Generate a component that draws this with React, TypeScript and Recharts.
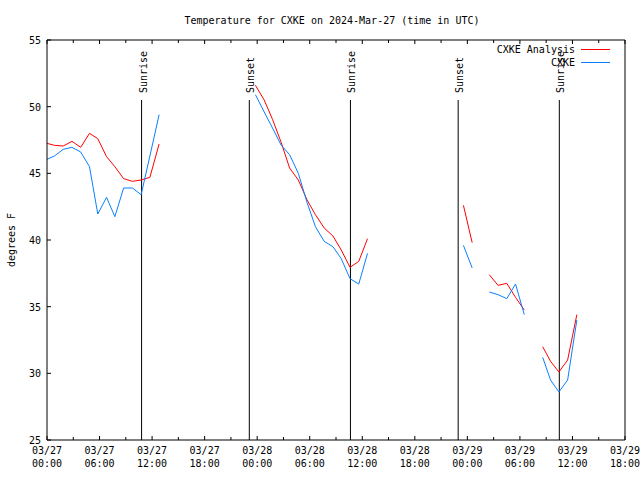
import React from 'react';
import { LineChart, Line, XAxis, YAxis, ReferenceLine } from 'recharts';

// hours since 03/27 00:00 UTC; rows with null values break the lines
const hours = [
  0, 0.85, 1.85, 2.85, 3.85, 4.85, 5.8, 6.8, 7.75, 8.75, 9.75, 10.75, 11.75, 12.8,
  18,
  23.8, 24.8, 25.75, 26.75, 27.7, 28.7, 29.7, 30.65, 31.65, 32.65, 33.6, 34.6, 35.6, 36.6,
  42,
  47.55, 48.55,
  49.5,
  50.5, 51.5, 52.5, 53.5, 54.5,
  55.5,
  56.6, 57.5, 58.45, 59.45, 60.5,
];

const analysis = [
  47.25, 47.1, 47.05, 47.4, 46.95, 48.0, 47.6, 46.25, 45.5, 44.6, 44.4, 44.5, 44.7, 47.2,
  null,
  51.6, 50.5, 49.05, 47.3, 45.4, 44.5, 43.0, 41.9, 40.9, 40.3, 39.25, 37.95, 38.4, 40.1,
  null,
  42.6, 39.8,
  null,
  37.4, 36.6, 36.75, 35.7, 34.75,
  null,
  32.0, 30.9, 30.1, 31.0, 34.4,
];

const observed = [
  46.05, 46.3, 46.8, 46.95, 46.6, 45.5, 41.95, 43.2, 41.75, 43.9, 43.9, 43.4, 46.3, 49.4,
  null,
  50.9, 49.6, 48.4, 47.1, 46.4, 45.0, 42.8, 41.0, 39.9, 39.5, 38.6, 37.1, 36.7, 39.0,
  null,
  39.6, 37.9,
  null,
  36.1, 35.9, 35.6, 36.7, 34.4,
  null,
  31.2, 29.5, 28.6, 29.5, 34.0,
];

const eventHours = [10.8, 23.1, 34.65, 46.95, 58.5];
const eventNames = ['Sunrise', 'Sunset', 'Sunrise', 'Sunset', 'Sunrise'];

const xTicks = [0, 3, 6, 9, 12, 15, 18, 21, 24, 27, 30, 33, 36, 39, 42, 45, 48, 51, 54, 57, 60, 63, 66];
const yTicks = [25, 30, 35, 40, 45, 50, 55];

const data = hours.map((h, i) => ({ h, analysis: analysis[i], observed: observed[i] }));

const FONT = "'DejaVu Sans Mono', monospace";
const RED = '#ff0000';
const BLUE = '#0a80ff';

const pad = (n: number) => (n < 10 ? '0' + n : '' + n);

const BottomTick = (props: any) => {
  const { x, y, payload } = props;
  const v = payload.value;
  const major = v % 6 === 0;
  return (
    <g>
      <line x1={x} y1={y} x2={x} y2={y - (major ? 4 : 3)} stroke="#000" />
      {major && (
        <text x={x} y={y + 14} textAnchor="middle" fontFamily={FONT} fontSize={10} fill="#000">
          <tspan x={x}>{`03/${27 + Math.floor(v / 24)}`}</tspan>
          <tspan x={x} dy={13}>{`${pad(v % 24)}:00`}</tspan>
        </text>
      )}
    </g>
  );
};

const TopTick = (props: any) => {
  const { x, y, payload } = props;
  const major = payload.value % 6 === 0;
  return <line x1={x} y1={y} x2={x} y2={y + (major ? 4 : 3)} stroke="#000" />;
};

const LeftTick = (props: any) => {
  const { x, y, payload } = props;
  return (
    <g>
      <line x1={x} y1={y} x2={x + 4} y2={y} stroke="#000" />
      <text x={x - 6} y={y + 4} textAnchor="end" fontFamily={FONT} fontSize={10} fill="#000">
        {payload.value}
      </text>
    </g>
  );
};

const RightTick = (props: any) => {
  const { x, y } = props;
  return <line x1={x} y1={y} x2={x - 4} y2={y} stroke="#000" />;
};

const eventShape = (name: string) => (p: any) => {
  const top = Math.min(p.y1, p.y2);
  const bottom = Math.max(p.y1, p.y2);
  const tx = p.x1 + 5;
  const ty = top - 7;
  return (
    <g>
      <line x1={p.x1} y1={top} x2={p.x1} y2={bottom} stroke="#000" strokeWidth={1} />
      <text x={tx} y={ty} transform={`rotate(-90 ${tx} ${ty})`} textAnchor="start" fontFamily={FONT} fontSize={10} fill="#000">
        {name}
      </text>
    </g>
  );
};

export default function App() {
  return (
    <div style={{ position: 'absolute', left: 0, top: 0, width: 640, height: 480, background: '#fff' }}>
      <LineChart width={640} height={480} data={data} margin={{ top: 39, right: 14, bottom: 39, left: 46 }}>
        <XAxis
          xAxisId="b"
          dataKey="h"
          type="number"
          domain={[0, 66]}
          ticks={xTicks}
          interval={0}
          height={1}
          tickSize={0}
          tickMargin={0}
          tick={<BottomTick />}
          axisLine={{ stroke: '#000' }}
        />
        <XAxis
          xAxisId="t"
          orientation="top"
          dataKey="h"
          type="number"
          domain={[0, 66]}
          ticks={xTicks}
          interval={0}
          height={1}
          tickSize={0}
          tickMargin={0}
          tick={<TopTick />}
          axisLine={{ stroke: '#000' }}
        />
        <YAxis
          yAxisId="l"
          type="number"
          domain={[25, 55]}
          ticks={yTicks}
          interval={0}
          width={1}
          tickSize={0}
          tickMargin={0}
          tick={<LeftTick />}
          axisLine={{ stroke: '#000' }}
        />
        <YAxis
          yAxisId="r"
          orientation="right"
          type="number"
          domain={[25, 55]}
          ticks={yTicks}
          interval={0}
          width={1}
          tickSize={0}
          tickMargin={0}
          tick={<RightTick />}
          axisLine={{ stroke: '#000' }}
        />
        {eventHours.map((h, i) => (
          <ReferenceLine
            key={`ev-${i}`}
            xAxisId="b"
            yAxisId="l"
            segment={[{ x: h, y: 50.5 }, { x: h, y: 25 }]}
            stroke="#000"
            shape={eventShape(eventNames[i])}
            ifOverflow="visible"
          />
        ))}
        <Line
          xAxisId="b"
          yAxisId="l"
          dataKey="analysis"
          stroke={RED}
          strokeWidth={1}
          dot={false}
          connectNulls={false}
          isAnimationActive={false}
          type="linear"
        />
        <Line
          xAxisId="b"
          yAxisId="l"
          dataKey="observed"
          stroke={BLUE}
          strokeWidth={1}
          dot={false}
          connectNulls={false}
          isAnimationActive={false}
          type="linear"
        />
      </LineChart>
      <svg width={640} height={480} style={{ position: 'absolute', left: 0, top: 0, pointerEvents: 'none' }}>
        <text x={332} y={24} textAnchor="middle" fontFamily={FONT} fontSize={10} fill="#000">
          Temperature for CXKE on 2024-Mar-27 (time in UTC)
        </text>
        <text x={15} y={240} transform="rotate(-90 15 240)" textAnchor="middle" fontFamily={FONT} fontSize={10} fill="#000">
          degrees F
        </text>
        <text x={575} y={53} textAnchor="end" fontFamily={FONT} fontSize={10} fill="#000">CXKE Analysis</text>
        <line x1={581} y1={49.5} x2={610} y2={49.5} stroke={RED} />
        <text x={575} y={66} textAnchor="end" fontFamily={FONT} fontSize={10} fill="#000">CXKE</text>
        <line x1={581} y1={62.5} x2={610} y2={62.5} stroke={BLUE} />
      </svg>
    </div>
  );
}
